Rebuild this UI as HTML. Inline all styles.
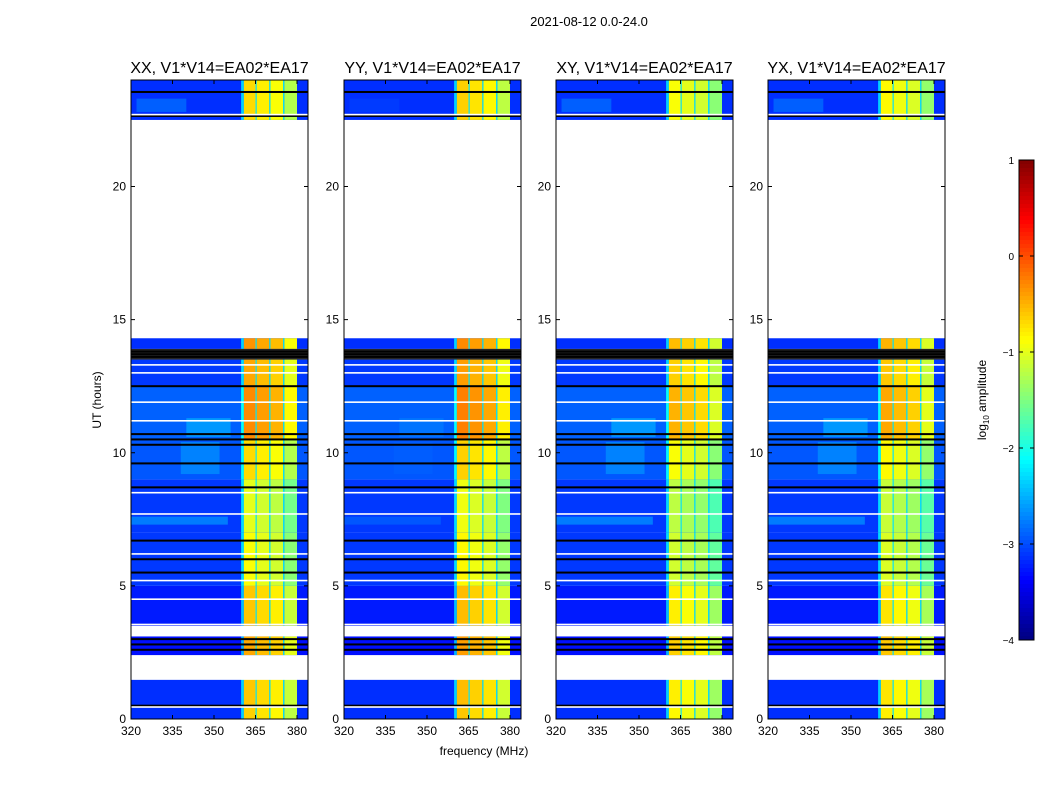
<!DOCTYPE html>
<html><head><meta charset="utf-8"><style>
body{margin:0;background:#fff;font-family:"Liberation Sans",sans-serif}
svg text{font-family:"Liberation Sans",sans-serif}
</style></head><body>
<svg id="chart" width="1050" height="800" xmlns="http://www.w3.org/2000/svg">
<rect width="1050" height="800" fill="#fff"/>
<text x="589" y="26" font-size="13" text-anchor="middle">2021-08-12 0.0-24.0</text>
<text x="484" y="755" font-size="12" text-anchor="middle">frequency (MHz)</text>
<text transform="translate(101,400) rotate(-90)" font-size="12" text-anchor="middle">UT (hours)</text>
<g id="panels"></g>
<g id="cbar"></g>
</svg>
<script>
// ---- data ----
const panelTitles = ["XX, V1*V14=EA02*EA17","YY, V1*V14=EA02*EA17","XY, V1*V14=EA02*EA17","YX, V1*V14=EA02*EA17"];
const panelBandOffset = [0.0, 0.05, -0.2, -0.15];
const segStart = [0, 0.45, 2.4, 3.5, 5.0, 7.0, 9.0, 10.5, 12.5, 13.9, 22.5];
const segEnd   = [0.45, 1.5, 3.1, 5.0, 7.0, 9.0, 10.5, 12.5, 13.5, 14.3, 24];
const segBg    = [-3.15, -3.15, -3.3, -3.25, -3.1, -3.1, -2.95, -2.9, -3.1, -3.15, -3.15];
const segBand  = [-0.8, -0.75, -0.6, -0.75, -1.05, -1.15, -0.85, -0.45, -0.6, -0.5, -0.85];
const chanStart = [360.8, 365.4, 370.4, 375.4];
const chanEnd   = [365.0, 370.0, 375.0, 380.0];
const chanGain  = [0.15, 0.05, -0.05, -0.4];
const featT0 = [9.2, 10.6, 7.3, 22.8];
const featT1 = [10.4, 11.3, 7.6, 23.3];
const featF0 = [338, 340, 320, 322];
const featF1 = [352, 356, 355, 340];
const featLv = [-2.6, -2.45, -2.55, -2.75];
const blackLines = [0.5, 2.6, 2.8, 3.0, 5.5, 6.0, 6.7, 8.7, 9.6, 10.3, 10.5, 10.7, 12.5, 13.6, 13.7, 13.8, 22.65, 23.55];
const whiteLines = [0.45, 1.5, 3.55, 4.5, 5.2, 6.2, 7.7, 8.5, 11.2, 11.9, 13.0, 13.3, 22.7];
const xTicks = [320, 335, 350, 365, 380];
const yTicks = [0, 5, 10, 15, 20];
const cbTicks = [1, 0, -1, -2, -3, -4];
// ---- layout ----
const NS="http://www.w3.org/2000/svg";
const panelX=[131,344,556,768], PW=177, PT=80, PB=719;
const fMin=320, fMax=320+177/(41.5/15);
function jet(v){
  let t=Math.max(0,Math.min(1,(v+4)/5));
  const r=Math.max(0,Math.min(1,1.5-Math.abs(4*t-3)));
  const g=Math.max(0,Math.min(1,1.5-Math.abs(4*t-2)));
  const b=Math.max(0,Math.min(1,1.5-Math.abs(4*t-1)));
  return `rgb(${Math.round(r*255)},${Math.round(g*255)},${Math.round(b*255)})`;
}
function mk(tag,attrs,parent){const e=document.createElementNS(NS,tag);for(const k in attrs)e.setAttribute(k,attrs[k]);parent.appendChild(e);return e;}
const root=document.getElementById('panels');
panelX.forEach((px,pi)=>{
  const xs=f=>px+(f-fMin)/(fMax-fMin)*PW;
  const ys=h=>PB-h/24*(PB-PT);
  const g=mk('g',{},root);
  
  
  for(let s=0;s<segStart.length;s++){
    const y0=ys(segEnd[s]), y1=ys(segStart[s]);
    const bg=mk('rect',{x:px,y:y0,width:PW,height:y1-y0,fill:jet(segBg[s])},g);
    
    
    mk('rect',{x:xs(359.8),y:y0,width:xs(360.8)-xs(359.8),height:y1-y0,fill:jet(segBg[s]+0.8)},g);
    for(let c=0;c<chanStart.length;c++){
      const r=mk('rect',{x:xs(chanStart[c]),y:y0,width:xs(chanEnd[c])-xs(chanStart[c]),height:y1-y0,fill:jet(segBand[s]+chanGain[c]+panelBandOffset[pi])},g);
      
      
    }
    for(let c=1;c<chanStart.length;c++){
      mk('rect',{x:xs(chanEnd[c-1]),y:y0,width:xs(chanStart[c])-xs(chanEnd[c-1]),height:y1-y0,fill:jet(-2.2)},g);
    }
  }
  for(let k=0;k<featT0.length;k++){
    const y0=ys(featT1[k]),y1=ys(featT0[k]);
    mk('rect',{x:xs(featF0[k]),y:y0,width:xs(featF1[k])-xs(featF0[k]),height:y1-y0,fill:jet(featLv[k]+(pi==1?-0.3:0)),opacity:0.6},g);
  }
  blackLines.forEach(h=>{mk('rect',{x:px,y:ys(h)-1,width:PW,height:2,fill:'#000'},g);});
  mk('rect',{x:px,y:ys(13.9),width:PW,height:ys(13.5)-ys(13.9),fill:'#000',opacity:0.85},g);
  whiteLines.forEach(h=>{mk('rect',{x:px,y:ys(h)-0.8,width:PW,height:1.6,fill:'#fff'},g);});
  const fr=mk('rect',{x:px,y:PT,width:PW,height:PB-PT,fill:'none',stroke:'#000','stroke-width':1},g);
  
  
  const t=mk('text',{x:px+PW/2,y:PT-7,'font-size':16,'text-anchor':'middle'},g);
  t.textContent=panelTitles[pi];
  
  
  xTicks.forEach(f=>{
    const x=xs(f);
    mk('line',{x1:x,x2:x,y1:PB,y2:PB-4,stroke:'#000'},g);
    mk('line',{x1:x,x2:x,y1:PT,y2:PT+4,stroke:'#000'},g);
    const l=mk('text',{x:x,y:PB+16,'font-size':12,'text-anchor':'middle'},g);
    l.textContent=f;
    
    
  });
  yTicks.forEach(h=>{
    const y=ys(h);
    mk('line',{x1:px,x2:px+4,y1:y,y2:y,stroke:'#000'},g);
    mk('line',{x1:px+PW,x2:px+PW-4,y1:y,y2:y,stroke:'#000'},g);
    const l=mk('text',{x:px-5,y:y+4,'font-size':12,'text-anchor':'end'},g);
    l.textContent=h;
    
    
  });
});
// colorbar
const cb=document.getElementById('cbar');


const CX=1019,CW=15,CT=160,CB=640;
for(let i=0;i<120;i++){
  const v=1-(i+0.5)/120*5;
  mk('rect',{x:CX,y:CT+i*4,width:CW,height:4.2,fill:jet(v)},cb);
}
mk('rect',{x:CX,y:CT,width:CW,height:CB-CT,fill:'none',stroke:'#000'},cb);
cbTicks.forEach(v=>{
  const y=CT+(1-v)/5*(CB-CT);
  mk('line',{x1:CX,x2:CX+4,y1:y,y2:y,stroke:'#000'},cb);
  mk('line',{x1:CX+CW,x2:CX+CW-4,y1:y,y2:y,stroke:'#000'},cb);
  const l=mk('text',{x:CX-5,y:y+4,'font-size':10,'text-anchor':'end'},cb);
  l.textContent=v<0?'\u2212'+(-v):v;
  
  
});
const cl=mk('text',{transform:'translate(986,400) rotate(-90)','font-size':12,'text-anchor':'middle'},cb);
cl.innerHTML='log<tspan font-size="8" dy="3">10</tspan><tspan dy="-3"> amplitude</tspan>';


</script>
</body></html>
